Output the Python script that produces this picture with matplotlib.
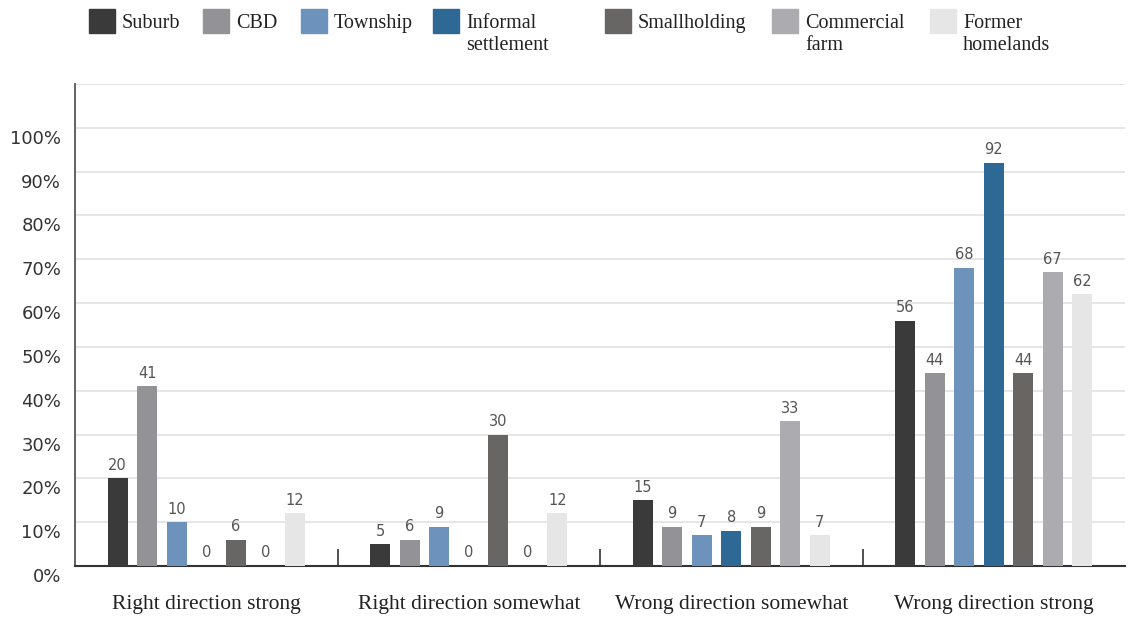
import matplotlib.pyplot as plt
import matplotlib.transforms as mtransforms
from matplotlib.patches import Rectangle
import numpy as np

kategorijas = ["Right direction strong", "Right direction somewhat",
               "Wrong direction somewhat", "Wrong direction strong"]
grupas = ["Suburb", "CBD", "Township", "Informal\nsettlement", "Smallholding",
          "Commercial\nfarm", "Former\nhomelands"]
krasas = ["#3a3a3a", "#939297", "#6d93bd", "#2e6894", "#686664", "#acacb0", "#e6e6e6"]
vertibas = [
    [20, 5, 15, 56],   # Suburb
    [41, 6, 9, 44],    # CBD
    [10, 9, 7, 68],    # Township
    [0, 0, 8, 92],     # Informal settlement
    [6, 30, 9, 44],    # Smallholding
    [0, 0, 33, 67],    # Commercial farm
    [12, 12, 7, 62],   # Former homelands
]
y_ticks = list(range(0, 111, 10))
y_labels = [f"{v}%" for v in range(0, 101, 10)] + [""]

serif = ["Liberation Serif", "DejaVu Serif"]
sans = ["DejaVu Sans"]

fig = plt.figure(figsize=(11.33, 6.18), dpi=100)
ax = fig.add_axes([75 / 1133, 52 / 618, 1050 / 1133, 482 / 618])

x = np.arange(len(kategorijas))
solis = 0.1124
platums = 0.076
for j, (nos, kr) in enumerate(zip(grupas, krasas)):
    pos = x + (j - 3) * solis
    ax.bar(pos, vertibas[j], width=platums, color=kr, zorder=3)
    for px, v in zip(pos, vertibas[j]):
        ax.annotate(str(v), (px, v), xytext=(0, 4), textcoords="offset points",
                    ha="center", va="bottom", fontsize=10.5, color="#555555",
                    family=sans)

ax.set_xlim(-0.5, 3.5)
ax.set_ylim(0, 110)
ax.set_yticks(y_ticks)
ax.set_yticklabels(y_labels, fontsize=13, color="#333333", family=sans)
ax.tick_params(axis="y", length=0, pad=10)
off = mtransforms.ScaledTranslation(0, -9 / 100, fig.dpi_scale_trans)
for lbl in ax.get_yticklabels():
    lbl.set_transform(lbl.get_transform() + off)

ax.set_xticks(x)
ax.set_xticklabels(kategorijas, fontsize=15.5, color="#222222", family=serif)
ax.tick_params(axis="x", which="major", length=0, pad=21)
ax.set_xticks(x[:-1] + 0.5, minor=True)
ax.tick_params(axis="x", which="minor", direction="in", length=12, width=1.2,
               color="#333333")

ax.grid(axis="y", color="#e2e2e2", linewidth=1.2, zorder=0)
for s in ["top", "right"]:
    ax.spines[s].set_visible(False)
ax.spines["left"].set_color("#555555")
ax.spines["left"].set_linewidth(1.3)
ax.spines["bottom"].set_color("#333333")
ax.spines["bottom"].set_linewidth(1.5)

# legenda
leg_x = [89, 203, 301, 433, 605, 772, 930]
for lx, nos, kr in zip(leg_x, grupas, krasas):
    fig.patches.append(Rectangle((lx / 1133, 1 - 33 / 618), 26 / 1133, 24 / 618,
                                 transform=fig.transFigure, color=kr))
    fig.text((lx + 33) / 1133, 1 - 14 / 618, nos, ha="left", va="top",
             fontsize=14.5, color="#222222", family=serif, linespacing=1.2)

fig.savefig("out.png", dpi=100)
